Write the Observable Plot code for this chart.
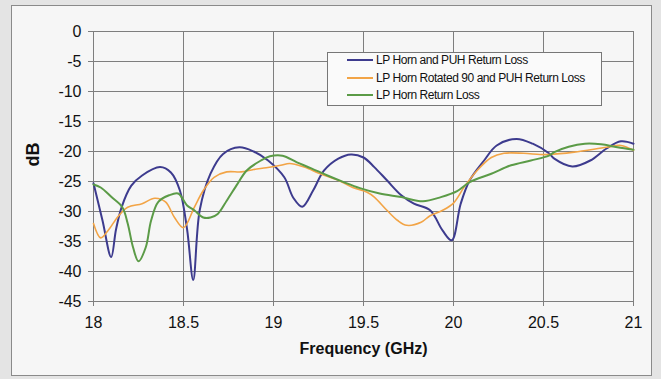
<!DOCTYPE html>
<html>
<head>
<meta charset="utf-8">
<script src="https://cdn.jsdelivr.net/npm/d3@7"></script>
<script src="https://cdn.jsdelivr.net/npm/@observablehq/plot@0.6"></script>
<style>
  html, body { margin: 0; padding: 0; }
  body { width: 661px; height: 379px; background: #e4e4e4; position: relative; overflow: hidden; font-family: "Liberation Sans", Arial, sans-serif; }
  #box { position: absolute; left: 11px; top: 5px; width: 641px; height: 371px; background: #f6f6f6; border: 1px solid #8a8a8a; box-sizing: border-box; }
  #chart { position: absolute; left: 0; top: 0; }
  #legend { position: absolute; left: 327px; top: 52px; width: 275px; height: 54px; background: #fafafa; border: 1px solid #777; box-sizing: border-box; font-size: 12px; letter-spacing: -0.45px; color: #111; }
  .entry { position: absolute; left: 19px; height: 14px; display: flex; align-items: center; white-space: nowrap; }
  .swatch { width: 26px; height: 0; border-top-width: 2px; border-top-style: solid; margin-right: 3px; }
</style>
</head>
<body>
<div id="box"></div>
<div id="chart"></div>
<div id="legend"></div>
<script>
// ---- data ----
const seriesNames = [
  "LP Horn and PUH Return Loss",
  "LP Horn Rotated 90 and PUH Return Loss",
  "LP Horn Return Loss"
];
const seriesColors = ["#3d3b8e", "#f2a446", "#5b9b47"];

const hornPuhFreq = [18.00,18.05,18.098,18.125,18.156,18.21,18.27,18.37,18.43,18.48,18.52,18.554,18.59,18.65,18.72,18.81,18.89,18.97,19.06,19.11,19.16,19.22,19.28,19.36,19.43,19.50,19.56,19.63,19.71,19.78,19.87,19.94,19.99,20.04,20.09,20.17,20.24,20.35,20.44,20.53,20.56,20.66,20.76,20.85,20.93,21.00];
const hornPuhDb   = [-25.3,-31.5,-37.6,-33.0,-29.3,-25.7,-24.0,-22.6,-23.5,-26.5,-33.0,-41.4,-29.8,-23.7,-20.4,-19.3,-20.0,-21.5,-24.3,-27.7,-29.2,-26.5,-23.2,-21.2,-20.5,-21.0,-22.6,-24.8,-27.3,-28.7,-29.8,-33.2,-34.8,-28.7,-24.8,-21.5,-19.0,-17.9,-18.7,-20.3,-21.2,-22.5,-21.5,-19.5,-18.3,-18.7];

const rotatedFreq = [18.00,18.04,18.08,18.14,18.19,18.27,18.34,18.40,18.45,18.50,18.56,18.61,18.67,18.74,18.82,18.89,18.96,19.04,19.09,19.17,19.26,19.36,19.44,19.52,19.56,19.63,19.69,19.74,19.82,19.87,19.94,20.00,20.06,20.13,20.21,20.28,20.39,20.48,20.53,20.67,20.85,20.93,21.00];
const rotatedDb   = [-32.0,-34.4,-33.2,-30.7,-29.3,-28.7,-27.8,-28.4,-31.0,-32.7,-29.3,-26.5,-24.3,-23.4,-23.4,-23.0,-22.7,-22.3,-22.0,-22.6,-23.7,-24.8,-26.0,-26.8,-27.6,-29.8,-31.5,-32.3,-31.8,-30.7,-29.8,-28.6,-25.9,-23.2,-21.0,-20.3,-20.3,-20.5,-20.5,-20.1,-19.3,-19.0,-19.8];

const hornFreq = [18.00,18.04,18.10,18.16,18.19,18.22,18.25,18.29,18.32,18.36,18.42,18.47,18.52,18.56,18.61,18.65,18.69,18.74,18.80,18.85,18.93,18.98,19.05,19.13,19.21,19.30,19.39,19.48,19.59,19.71,19.83,19.93,20.02,20.09,20.21,20.32,20.43,20.53,20.56,20.64,20.73,20.82,20.91,21.00];
const hornDb   = [-25.5,-26.0,-27.6,-29.3,-32.0,-36.0,-38.3,-36.0,-31.5,-28.4,-27.3,-27.0,-29.0,-29.8,-31.0,-31.0,-30.4,-28.2,-25.4,-23.2,-21.5,-20.8,-20.7,-21.8,-22.8,-24.0,-25.1,-26.1,-27.0,-27.6,-28.3,-27.6,-26.6,-25.1,-23.7,-22.3,-21.5,-20.7,-20.1,-19.2,-18.7,-18.8,-19.3,-19.7];

const xTicks = [18, 18.5, 19, 19.5, 20, 20.5, 21];
const yTicks = [0, -5, -10, -15, -20, -25, -30, -35, -40, -45];
const xTitle = "Frequency (GHz)";
const yTitle = "dB";

// ---- build table ----
const rows = [];
[[hornPuhFreq, hornPuhDb], [rotatedFreq, rotatedDb], [hornFreq, hornDb]].forEach(([fx, fy], i) => {
  fx.forEach((f, j) => rows.push({series: seriesNames[i], freq: f, db: fy[j]}));
});
const widths = {[seriesNames[0]]: 2, [seriesNames[1]]: 1.6, [seriesNames[2]]: 2};

const gridColor = "#7e7e7e";
const chart = Plot.plot({
  width: 661,
  height: 379,
  marginLeft: 93,
  marginRight: 28,
  marginTop: 31,
  marginBottom: 78,
  style: {background: "transparent", fontFamily: "'Liberation Sans', Arial, sans-serif", fontSize: "16px", color: "#111"},
  x: {domain: [18, 21]},
  y: {domain: [-45, 0]},
  color: {domain: seriesNames, range: seriesColors},
  marks: [
    Plot.ruleY(yTicks, {stroke: gridColor, strokeWidth: 1}),
    Plot.ruleX(xTicks, {stroke: gridColor, strokeWidth: 1}),
    Plot.axisY({ticks: yTicks, tickSize: 5, tickPadding: 7, label: null, stroke: gridColor, fontSize: 16, tickFormat: d => String(d)}),
    Plot.axisX({ticks: xTicks, tickSize: 5, tickPadding: 10, label: null, stroke: gridColor, fontSize: 16, tickFormat: d => String(d)}),
    ...seriesNames.map(name => Plot.line(rows.filter(r => r.series === name), {
      x: "freq", y: "db", stroke: "series", strokeWidth: widths[name], curve: "catmull-rom"
    })),
    Plot.text([yTitle], {frameAnchor: "left", dx: -60, rotate: -90, fontWeight: "bold", fontSize: 18}),
    Plot.text([xTitle], {frameAnchor: "bottom", dy: 52, fontWeight: "bold", fontSize: 16})
  ]
});
document.getElementById("chart").appendChild(chart);

// ---- legend ----
const legend = document.getElementById("legend");
seriesNames.forEach((name, i) => {
  const e = document.createElement("div");
  e.className = "entry";
  e.style.top = (0 + i * 17.5) + "px";
  const sw = document.createElement("span");
  sw.className = "swatch";
  sw.style.borderTopColor = seriesColors[i];
  e.appendChild(sw);
  const t = document.createElement("span");
  t.textContent = name;
  e.appendChild(t);
  legend.appendChild(e);
});
</script>
</body>
</html>
